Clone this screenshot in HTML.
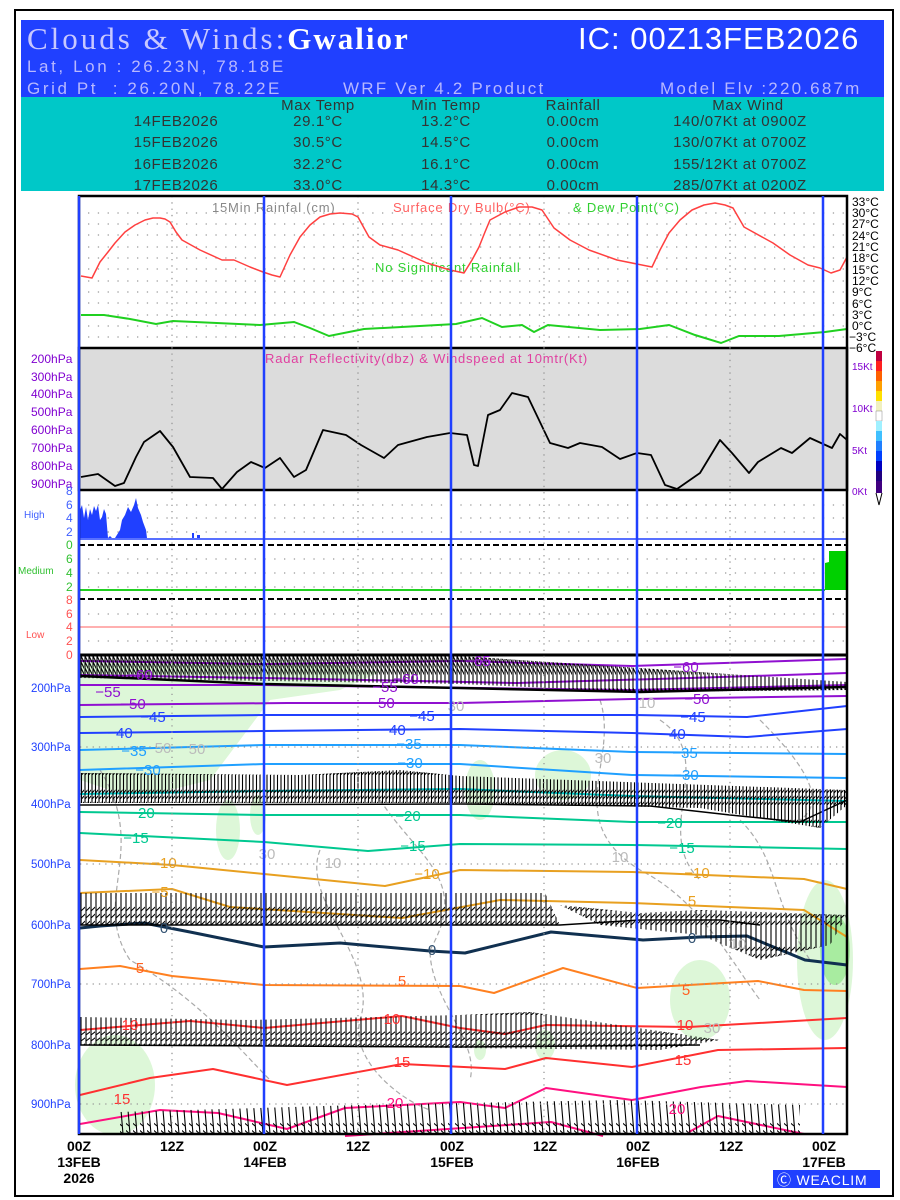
<!DOCTYPE html>
<html><head><meta charset="utf-8"><style>
body{margin:0;background:#fff;}
svg{display:block;}
text{font-family:"Liberation Sans",sans-serif;}
</style></head><body>
<svg width="900" height="1200" viewBox="0 0 900 1200" xmlns="http://www.w3.org/2000/svg">
<defs>
<pattern id="b1" patternUnits="userSpaceOnUse" x="0" y="656" width="4" height="32"><path d="M1 0V32M1 0L7 12M1 6L7 18M1 12L7 24" stroke="#000" stroke-width="1.1" fill="none"/></pattern>
<pattern id="b2" patternUnits="userSpaceOnUse" x="0" y="775" width="3.5" height="30"><path d="M1 0V30M1 30L10 20M1 24L10 14M1 18L10 8" stroke="#000" stroke-width="1.1" fill="none"/></pattern>
<pattern id="b3" patternUnits="userSpaceOnUse" x="0" y="885" width="5" height="40"><path d="M1 0V40M1 40L14 28M1 33L14 21M1 26L14 14" stroke="#000" stroke-width="1.1" fill="none"/></pattern>
<pattern id="b4" patternUnits="userSpaceOnUse" x="0" y="1015" width="5" height="32"><path d="M1 0V32M1 32L14 22M1 26L14 16M1 20L14 10" stroke="#000" stroke-width="1.1" fill="none"/></pattern>
<pattern id="b5" patternUnits="userSpaceOnUse" x="0" y="1098" width="7" height="36"><path d="M1 0L4 36M4 36L-10 24M3 28L-11 16" stroke="#000" stroke-width="1.1" fill="none"/></pattern>
</defs>
<rect x="15" y="10" width="878" height="1186" fill="#fff" stroke="#000" stroke-width="2"/>
<!-- header -->
<rect x="21" y="20" width="863" height="77" fill="#2040ff"/>
<rect x="21" y="97" width="863" height="94" fill="#00c8c8"/>
<text x="27" y="49" font-size="31" fill="#c8c8ff" letter-spacing="3" style="font-family:'Liberation Serif',serif">Clouds &amp; Winds:<tspan fill="#fff" font-weight="bold" letter-spacing="2">Gwalior</tspan></text>
<text x="578" y="49" font-size="31" fill="#fff" letter-spacing="1">IC: 00Z13FEB2026</text>
<text x="27" y="72" font-size="17" fill="#b8b8ff" letter-spacing="2.6">Lat, Lon : 26.23N, 78.18E</text>
<text x="27" y="94" font-size="17" fill="#b8b8ff" letter-spacing="2.6" xml:space="preserve">Grid Pt  : 26.20N, 78.22E</text>
<text x="343" y="94" font-size="17" fill="#b8b8ff" letter-spacing="2.2">WRF Ver 4.2 Product</text>
<text x="660" y="94" font-size="17" fill="#b8b8ff" letter-spacing="2.2">Model Elv :220.687m</text>
<g font-size="15" fill="#333" text-anchor="middle" letter-spacing="0.6">
<text x="318" y="110">Max Temp</text><text x="446" y="110">Min Temp</text><text x="573" y="110">Rainfall</text><text x="748" y="110">Max Wind</text>
<text x="176" y="126">14FEB2026</text><text x="318" y="126">29.1°C</text><text x="446" y="126">13.2°C</text><text x="573" y="126">0.00cm</text><text x="740" y="126">140/07Kt at 0900Z</text>
<text x="176" y="147">15FEB2026</text><text x="318" y="147">30.5°C</text><text x="446" y="147">14.5°C</text><text x="573" y="147">0.00cm</text><text x="740" y="147">130/07Kt at 0700Z</text>
<text x="176" y="169">16FEB2026</text><text x="318" y="169">32.2°C</text><text x="446" y="169">16.1°C</text><text x="573" y="169">0.00cm</text><text x="740" y="169">155/12Kt at 0700Z</text>
<text x="176" y="190">17FEB2026</text><text x="318" y="190">33.0°C</text><text x="446" y="190">14.3°C</text><text x="573" y="190">0.00cm</text><text x="740" y="190">285/07Kt at 0200Z</text>
</g>
<rect x="21" y="191" width="863" height="5" fill="#fff"/>
<!-- top panel -->
<rect x="79" y="196" width="768" height="152" fill="#fff" stroke="#000" stroke-width="2"/>
<g stroke="#999" stroke-width="1.3" stroke-dasharray="1.3 8.5">
<path d="M88 213H847M88 224H847M88 235H847M88 247H847M88 258H847M88 269H847M88 281H847M88 292H847M88 303H847M88 315H847M88 326H847M88 337H847"/>
</g>
<g font-size="12" fill="#000">
<text x="852" y="206">33°C</text><text x="852" y="217">30°C</text><text x="852" y="228">27°C</text><text x="852" y="240">24°C</text><text x="852" y="251">21°C</text><text x="852" y="262">18°C</text><text x="852" y="274">15°C</text><text x="852" y="285">12°C</text><text x="852" y="296">9°C</text><text x="852" y="308">6°C</text><text x="852" y="319">3°C</text><text x="852" y="330">0°C</text><text x="849" y="341">−3°C</text><text x="849" y="352">−6°C</text>
</g>
<text x="212" y="212" font-size="13" fill="#888" letter-spacing="0.8">15Min Rainfal (cm)</text>
<text x="393" y="212" font-size="13" fill="#ff6060" letter-spacing="0.8">Surface Dry Bulb(°C)</text>
<text x="573" y="212" font-size="13" fill="#30d030" letter-spacing="0.8">&amp; Dew Point(°C)</text>
<text x="375" y="272" font-size="13" fill="#30d030" letter-spacing="0.8">No Significant Rainfall</text>
<polyline fill="none" stroke="#ff4040" stroke-width="1.5" stroke-linejoin="round" points="81,276 92,278 100,262 108,252 115,243 125,232 135,225 145,220 153,218 160,218 165,219 170,222 176,232 182,240 200,250 222,260 234,260 250,267 263,272 272,275 280,277 290,255 300,237 310,225 320,217 330,214 340,213 352,214 358,217 364,228 369,237 380,245 398,250 427,263 450,270 464,273 472,260 479,247 485,232 490,220 505,212 519,207 532,207 542,210 554,228 570,240 589,250 617,260 652,267 660,250 669,233 680,220 692,210 704,205 715,203 725,205 733,208 744,227 773,243 790,255 808,265 820,268 831,273 840,270 847,257"/>
<polyline fill="none" stroke="#20d020" stroke-width="2" points="81,315 104,315 130,319 156,324 173,321 260,325 294,322 310,328 329,336 364,329 456,324 482,318 502,327 522,325 534,332 548,325 600,330 640,329 669,325 695,335 721,343 739,336 779,336 825,332 847,329"/>
<!-- radar panel -->
<rect x="79" y="348" width="768" height="142" fill="#dcdcdc" stroke="#000" stroke-width="2.5"/>
<text x="265" y="363" font-size="13" fill="#e040a0" letter-spacing="0.8">Radar Reflectivity(dbz) &amp; Windspeed at 10mtr(Kt)</text>
<g font-size="12" fill="#8000d0">
<text x="31" y="363">200hPa</text><text x="31" y="381">300hPa</text><text x="31" y="398">400hPa</text><text x="31" y="416">500hPa</text><text x="31" y="434">600hPa</text><text x="31" y="452">700hPa</text><text x="31" y="470">800hPa</text><text x="31" y="488">900hPa</text>
<text x="852" y="370" font-size="10">15Kt</text><text x="852" y="412" font-size="10">10Kt</text><text x="852" y="454" font-size="10">5Kt</text><text x="852" y="495" font-size="10">0Kt</text>
</g>
<polyline fill="none" stroke="#000" stroke-width="1.8" stroke-linejoin="round" points="81,477 98,474 115,486 124,483 136,457 144,442 160,431 173,447 190,477 213,478 222,489 237,472 251,462 265,468 280,458 294,477 306,470 323,430 346,435 361,445 384,458 398,445 427,437 450,433 467,435 474,465 478,466 488,415 500,410 512,393 528,397 550,443 568,448 580,443 602,447 620,459 637,453 651,455 665,485 677,489 700,473 720,440 732,453 749,473 758,462 781,448 792,453 810,438 832,448 840,434 847,440"/>
<!-- colorbar -->
<g>
<rect x="876" y="351" width="6" height="10" fill="#c00040"/><rect x="876" y="361" width="6" height="10" fill="#ff2020"/><rect x="876" y="371" width="6" height="10" fill="#ff6000"/><rect x="876" y="381" width="6" height="10" fill="#ffa000"/><rect x="876" y="391" width="6" height="10" fill="#ffe000"/><rect x="876" y="401" width="6" height="10" fill="#f0f0c0"/><rect x="876" y="411" width="6" height="10" fill="#fff" stroke="#888" stroke-width="0.5"/><rect x="876" y="421" width="6" height="10" fill="#a0f0ff"/><rect x="876" y="431" width="6" height="10" fill="#40c0ff"/><rect x="876" y="441" width="6" height="10" fill="#2080ff"/><rect x="876" y="451" width="6" height="10" fill="#0040ff"/><rect x="876" y="461" width="6" height="10" fill="#0000c0"/><rect x="876" y="471" width="6" height="10" fill="#200080"/><rect x="876" y="481" width="6" height="12" fill="#400080"/><path d="M876 493L879 505L882 493" fill="#fff" stroke="#000"/>
</g>
<!-- cloud panels -->
<g stroke="#999" stroke-width="1.3" stroke-dasharray="1.3 8.5">
<path d="M88 505H847M88 518H847M88 532H847M88 559H847M88 573H847M88 587H847M88 614H847M88 641H847"/>
</g>
<path d="M80 538V510L82 505L84 518L86 507L88 520L90 509L92 515L94 506L96 511L98 505L100 520L102 517L104 509L106 514L108 538L110 536L112 538L115 538L120 530L122 520L125 515L128 507L131 512L134 505L136 498L138 508L141 515L143 522L146 530L147 538Z" fill="#2040ff"/>
<rect x="192" y="533" width="2" height="5" fill="#2040ff"/><rect x="197" y="535" width="3" height="3" fill="#2040ff"/>
<line x1="79" y1="539" x2="847" y2="539" stroke="#2040ff" stroke-width="1.5"/>
<line x1="79" y1="545" x2="847" y2="545" stroke="#000" stroke-width="2" stroke-dasharray="6 3"/>
<line x1="79" y1="590" x2="825" y2="590" stroke="#20d020" stroke-width="2"/>
<path d="M825 590V563L829 562V551H847V590Z" fill="#00d000"/>
<line x1="79" y1="599" x2="847" y2="599" stroke="#000" stroke-width="2" stroke-dasharray="6 3"/>
<line x1="79" y1="627" x2="847" y2="627" stroke="#ff6060" stroke-width="1"/>
<g font-size="12">
<g fill="#4060ff"><text x="66" y="495">8</text><text x="66" y="509">6</text><text x="66" y="522">4</text><text x="66" y="536">2</text><text x="24" y="518" font-size="10">High</text></g>
<g fill="#30c030"><text x="66" y="549">0</text><text x="66" y="563">6</text><text x="66" y="577">4</text><text x="66" y="591">2</text><text x="18" y="574" font-size="10">Medium</text></g>
<g fill="#ff5050"><text x="66" y="604">8</text><text x="66" y="618">6</text><text x="66" y="631">4</text><text x="66" y="645">2</text><text x="66" y="659">0</text><text x="26" y="638" font-size="10">Low</text></g>
</g>
<line x1="79" y1="655" x2="847" y2="655" stroke="#000" stroke-width="3"/>
<!-- main panel -->
<g fill="#ddf7d8">
<path d="M80 660H300L380 672L340 690L270 700L240 740L210 780L150 795L110 790L80 780Z"/>
<ellipse cx="195" cy="735" rx="30" ry="25"/>
<ellipse cx="563" cy="775" rx="28" ry="25"/>
<ellipse cx="480" cy="790" rx="15" ry="30"/>
<ellipse cx="228" cy="830" rx="12" ry="30"/>
<ellipse cx="258" cy="815" rx="8" ry="20"/>
<ellipse cx="700" cy="1000" rx="30" ry="40"/>
<ellipse cx="825" cy="960" rx="28" ry="80"/>
<ellipse cx="115" cy="1085" rx="40" ry="50"/>
<ellipse cx="545" cy="1045" rx="10" ry="15"/>
<ellipse cx="480" cy="1050" rx="6" ry="10"/>
</g>
<ellipse cx="835" cy="950" rx="15" ry="35" fill="#a8eca0"/>
<g stroke="#aaa" stroke-width="1.2" stroke-dasharray="5 3" fill="none">
<path d="M100 770C150 850 90 900 130 960C200 1000 240 1050 270 1080"/>
<path d="M320 850C300 900 380 960 360 1020C350 1060 400 1100 430 1110"/>
<path d="M380 800C420 860 470 880 430 950C430 1000 480 1040 470 1080"/>
<path d="M600 700C620 760 560 820 640 870C700 900 730 960 760 1000"/>
<path d="M660 720C720 760 650 830 700 880"/>
<path d="M740 820C780 860 770 900 810 960"/>
<path d="M760 720C800 760 830 800 800 820"/>
</g>
<g stroke-width="2" fill="none" stroke-linejoin="round">
<polyline stroke="#9010d0" points="80,661 264,664 460,661 632,666 847,659"/>
<polyline stroke="#9010d0" points="80,675 264,678 517,683 690,678 847,673"/>
<polyline stroke="#9010d0" points="80,685 264,685 402,687 632,690 847,685"/>
<polyline stroke="#9010d0" points="80,705 287,703 460,703 632,699 847,696"/>
<polyline stroke="#2040ff" points="80,717 264,715 460,715 632,715 747,717 847,706"/>
<polyline stroke="#2040ff" points="80,733 264,731 460,729 632,733 747,737 847,729"/>
<polyline stroke="#20a0ff" points="80,750 264,745 460,745 632,752 847,754"/>
<polyline stroke="#20a0ff" points="80,770 264,764 460,764 632,775 847,778"/>
<polyline stroke="#00c8c8" points="80,794 264,791 460,789 632,796 847,801"/>
<polyline stroke="#00c890" points="80,812 264,815 460,815 632,822 847,822"/>
<polyline stroke="#00c890" points="80,833 264,842 368,851 460,844 632,845 847,849"/>
<polyline stroke="#e8a020" points="80,860 172,865 264,874 385,886 460,870 632,872 804,879 847,889"/>
<polyline stroke="#e8a020" points="80,893 172,889 230,907 402,918 500,900 632,903 804,910 847,937"/>
<polyline stroke="#103050" stroke-width="3" points="80,928 100,926 144,923 190,932 264,947 340,943 430,951 465,953 551,932 643,940 700,937 747,936 805,960 847,965"/>
<polyline stroke="#ff8020" points="80,969 120,966 172,976 264,985 460,986 494,993 563,968 637,988 758,981 804,990 847,991"/>
<polyline stroke="#ff3030" points="80,1030 190,1021 264,1028 402,1016 460,1028 505,1034 546,1025 689,1027 847,1018"/>
<polyline stroke="#ff3030" points="80,1095 150,1078 213,1069 287,1085 402,1064 505,1069 546,1058 632,1067 718,1050 847,1048"/>
<polyline stroke="#ff1080" points="80,1124 160,1110 218,1113 287,1129 345,1108 460,1102 505,1108 546,1088 632,1100 701,1087 747,1081 847,1087"/>
<polyline stroke="#ff1080" points="345,1136 551,1122 603,1136"/>
<polyline stroke="#ff1080" points="689,1132 718,1116 804,1134"/>
</g>
<!-- barbs -->
<g>
<path d="M80 656H460L640 668L847 682V690L640 692L460 684L80 678Z" fill="url(#b1)"/>
<path d="M80 773L300 775L400 770L460 776L847 790L847 805L820 828L700 808L460 803L80 803Z" fill="url(#b2)"/>
<path d="M80 893H545L560 925L80 925Z" fill="url(#b3)"/>
<path d="M560 905L640 913L700 910L847 915L830 945L760 960L700 935L600 925Z" fill="url(#b3)"/>
<path d="M80 1017L250 1020L460 1015L530 1012L720 1040L660 1050L460 1048L80 1045Z" fill="url(#b4)"/>
<path d="M120 1112L360 1105L620 1100L800 1105L800 1134L120 1134Z" fill="url(#b5)"/>
<polyline fill="none" stroke="#000" stroke-width="2.5" points="80,676 264,684 460,688 640,692 847,687"/>
<polyline fill="none" stroke="#000" stroke-width="1.5" points="80,805 460,804 650,806 730,815 800,822 847,800"/>
<polyline fill="none" stroke="#000" stroke-width="1.5" points="80,925 560,925 640,920 720,920 760,925"/>
<polyline fill="none" stroke="#000" stroke-width="1.5" points="80,1045 460,1047 700,1045"/>
</g>
<g font-size="15" text-anchor="middle">
<g fill="#9010d0"><text x="478" y="666">−65</text><text x="686" y="672">−60</text><text x="140" y="680">−60</text><text x="108" y="697">−55</text><text x="133" y="709">−50</text><text x="382" y="708">−50</text><text x="406" y="684">−60</text><text x="697" y="704">−50</text><text x="385" y="692">−55</text></g>
<g fill="#2040ff"><text x="153" y="722">−45</text><text x="422" y="721">−45</text><text x="693" y="722">−45</text><text x="120" y="738">−40</text><text x="393" y="735">−40</text><text x="673" y="739">−40</text></g>
<g fill="#20a0ff"><text x="134" y="756">−35</text><text x="409" y="749">−35</text><text x="685" y="758">−35</text><text x="148" y="775">−30</text><text x="410" y="768">−30</text><text x="686" y="780">−30</text></g>
<g fill="#00c890"><text x="142" y="818">−20</text><text x="408" y="821">−20</text><text x="670" y="828">−20</text><text x="136" y="843">−15</text><text x="413" y="851">−15</text><text x="682" y="853">−15</text></g>
<g fill="#e8a020"><text x="164" y="868">−10</text><text x="427" y="879">−10</text><text x="697" y="878">−10</text><text x="160" y="897">−5</text><text x="692" y="906">5</text></g>
<g fill="#305070"><text x="164" y="933">0</text><text x="432" y="955">0</text><text x="692" y="943">0</text></g>
<g fill="#ff6020"><text x="140" y="973">5</text><text x="402" y="986">5</text><text x="686" y="995">5</text></g>
<g fill="#ff3030"><text x="130" y="1030">10</text><text x="392" y="1024">10</text><text x="685" y="1030">10</text><text x="402" y="1067">15</text><text x="683" y="1065">15</text><text x="122" y="1104">15</text></g>
<g fill="#ff1080"><text x="395" y="1108">20</text><text x="677" y="1114">20</text></g>
<g fill="#bbb"><text x="197" y="754">50</text><text x="163" y="753">50</text><text x="456" y="711">30</text><text x="603" y="763">30</text><text x="267" y="859">30</text><text x="333" y="868">10</text><text x="620" y="862">10</text><text x="738" y="949">10</text><text x="712" y="1033">30</text><text x="647" y="708">10</text></g>
</g>
<!-- grid main -->
<g stroke="#999" stroke-width="1.3" stroke-dasharray="1.3 5">
<path d="M80 747H847M80 864H847M80 984H847M80 1104H847"/>
<path d="M172 196V1134M358 196V1134M544 196V1134M730 196V1134"/>
</g>
<rect x="79" y="196" width="768" height="938" fill="none" stroke="#000" stroke-width="2.5"/>
<g stroke="#2040ff" stroke-width="2.5">
<path d="M79 196V1134M264 196V1134M451 196V1134M637 196V1134M823 196V1134"/>
</g>
<g font-size="11.5" fill="#2040ff">
<text x="31" y="692">200hPa</text><text x="31" y="751">300hPa</text><text x="31" y="808">400hPa</text><text x="31" y="868">500hPa</text><text x="31" y="929">600hPa</text><text x="31" y="988">700hPa</text><text x="31" y="1049">800hPa</text><text x="31" y="1108">900hPa</text>
</g>
<g font-size="14" font-weight="bold" fill="#000" text-anchor="middle">
<text x="79" y="1151">00Z</text><text x="79" y="1167">13FEB</text><text x="79" y="1183">2026</text>
<text x="172" y="1151">12Z</text>
<text x="265" y="1151">00Z</text><text x="265" y="1167">14FEB</text>
<text x="358" y="1151">12Z</text>
<text x="452" y="1151">00Z</text><text x="452" y="1167">15FEB</text>
<text x="545" y="1151">12Z</text>
<text x="638" y="1151">00Z</text><text x="638" y="1167">16FEB</text>
<text x="731" y="1151">12Z</text>
<text x="824" y="1151">00Z</text><text x="824" y="1167">17FEB</text>
</g>
<rect x="773" y="1170" width="107" height="18" fill="#2040ff"/>
<text x="777" y="1185" font-size="14" fill="#fff" letter-spacing="0.8">Ⓒ WEACLIM</text>
</svg>
</body></html>
